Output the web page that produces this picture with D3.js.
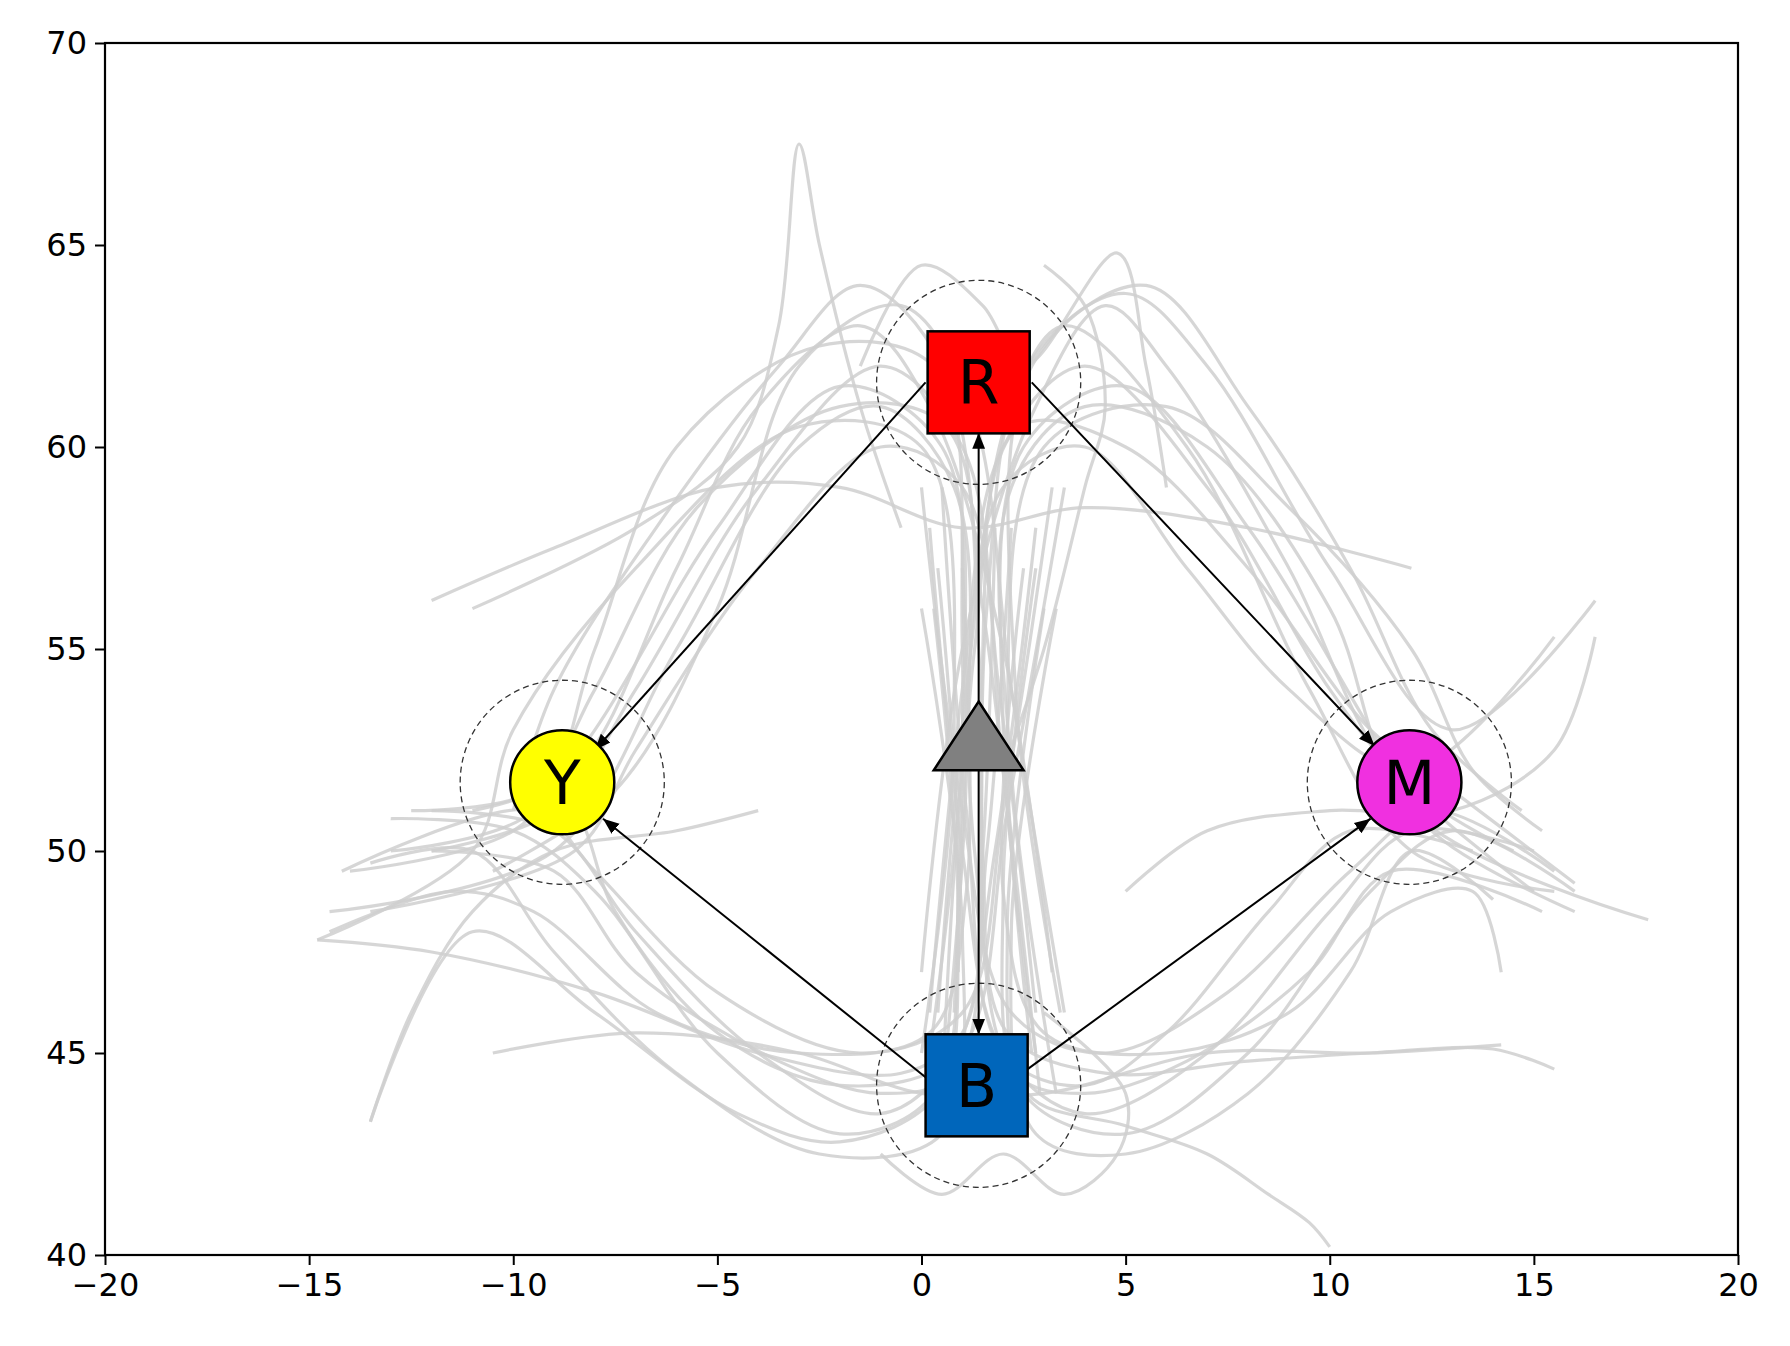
<!DOCTYPE html>
<html><head><meta charset="utf-8">
<script src="https://cdn.jsdelivr.net/npm/d3@7"></script>
<style>body{margin:0;background:#fff}text{font-family:"DejaVu Sans",sans-serif}</style>
</head><body><svg id="c" width="1790" height="1346"></svg>
<script>
const xTicks=[-20,-15,-10,-5,0,5,10,15,20];
const yTicks=[40,45,50,55,60,65,70];
// grey trajectories (x,y pairs)
const upLeft=[
[[2.8,46],[1.9,54],[1.0,60],[-1,62],[-4,59],[-7,54],[-9,51],[-12,50]],
[[0.2,45],[1.0,53],[0.5,60],[-2,61.5],[-5,58],[-8,53],[-10,50.5],[-14,49.5]],
[[3.2,47],[2.0,55],[0.2,61],[-1.5,63],[-4,61],[-6,57],[-8.5,52],[-11,51]],
[[0.5,44],[1.1,52],[0.8,59],[-1,61],[-3,60],[-6,55],[-9,50],[-14.5,48.5]],
[[2.4,48],[1.5,56],[0.3,62],[-2.5,62.5],[-6,60],[-8,55],[-9.5,51],[-13,50]],
[[3.5,46],[2.2,54],[1.2,61],[-0.5,63.5],[-3,62],[-5,56],[-7.5,51.5],[-10.5,49.5]],
[[0.0,45],[0.8,53],[0.0,60],[-3,60.5],[-7,57],[-10,53],[-11,50],[-14.8,47.8]],
[[1.4,47],[1.4,55],[0.6,60.5],[-2,61],[-5.5,58.5],[-8,54],[-9.5,51.5],[-12.5,51]],
[[2.9,44],[2.0,52],[1.0,59],[-1,60],[-4,57],[-7,52.5],[-8.5,50],[-13.5,48.5]],
[[0.8,46],[1.0,55],[0.5,62],[-1.5,64],[-3.5,62],[-6.5,58],[-9,54],[-10,51]]];
const upRight=[
[[0.2,46],[1.0,54],[2.0,60],[4,62],[7,59],[10,54],[12,51.5],[15,49]],
[[2.8,45],[2.0,53],[2.5,60],[5,61.5],[8,58],[11,53],[12.5,50.5],[16,48.5]],
[[0.0,47],[1.0,55],[2.8,61],[4.5,63.5],[6,62],[9,57],[11.5,52],[14.5,50]],
[[3.3,44],[2.2,52],[2.2,59],[4,61],[7,60],[10,56],[12,51],[17.8,48.3]],
[[1.5,48],[1.6,56],[2.6,62],[5,63.8],[7,62],[10,57],[13,53],[16.5,56.2]],
[[0.4,46],[1.1,54],[2.2,61],[3.5,63],[6.5,60],[9.5,54],[12,50],[15.5,49]],
[[2.7,45],[2.1,53],[3.0,60],[6,61],[9,58.5],[12,55],[13.5,52],[15.2,50.5]],
[[0.9,47],[1.3,55],[2.4,60.5],[5,60],[8,57],[11,53],[13,51.5],[16,49.2]],
[[3.4,46],[2.3,54],[2.7,62],[5.5,64],[8,61],[10.5,57],[12.5,53],[14.7,51]],
[[0.5,44],[1.0,52],[2.0,59],[4,60],[6.5,57],[9,54],[12,52],[15.5,55.3]]];
const downLeft=[
[[2.8,58],[1.8,50],[0.8,45],[-1,43.5],[-4,45],[-7,48],[-9,50.5],[-12,51]],
[[0.4,57],[0.9,49],[0.3,44],[-2,43],[-5,45],[-8,49],[-10,50.5],[-13,50.8]],
[[3.2,59],[2.0,51],[1.0,46],[-1.5,45],[-5,46.5],[-8,49.5],[-9.5,51],[-14.2,49.5]],
[[0.0,56],[1.0,48],[0.5,43],[-2.5,42.5],[-6,44.5],[-9,47.5],[-11,50],[-13.5,49.7]],
[[2.2,58],[1.6,50],[0.8,44.5],[-1,44],[-3.5,44.8],[-7,47],[-9,49.5],[-12,50]],
[[1.0,57],[1.1,49],[0.2,45.5],[-3,45],[-6.5,46],[-9.5,48.5],[-11.5,49],[-14.5,48]],
[[3.5,59],[2.1,51],[0.9,45],[-2,44.2],[-5,45.5],[-7.5,48.5],[-8.5,51],[-10,52]],
[[0.3,56],[0.9,48],[0.4,44],[-2,42.8],[-4.5,43.5],[-8,46],[-11,48],[-13.5,43.3]],
[[1.8,58],[1.5,50],[1.0,45.5],[-0.5,44.5],[-4,45],[-8,46.5],[-12,47.5],[-14.8,47.8]]];
const downRight=[
[[0.2,58],[1.0,50],[2.0,45],[4,43.5],[7,45],[10,48.5],[12,50.5],[15,50]],
[[2.8,57],[2.0,49],[2.5,44],[5,43],[8,45],[11,49],[13,50.5],[16,49]],
[[0.0,59],[1.0,51],[2.2,46],[4.5,45],[7.5,46.5],[10.5,49.5],[12.5,51],[15.5,49.5]],
[[3.3,56],[2.2,48],[2.8,43],[5,42.5],[8,44],[10.5,47],[12,50],[14,48.8]],
[[1.0,58],[1.3,50],[2.3,44.5],[4,44],[6.5,44.8],[9.5,47],[11.5,49.5],[15.2,48.5]],
[[2.5,57],[2.0,49],[3.0,45.5],[6,45],[9,46],[11.5,48.5],[13.5,49],[14.2,47]],
[[0.5,59],[1.1,51],[2.0,45],[4,44.2],[6,45.5],[8.5,48.5],[10.5,50.5],[13.5,50]],
[[3.0,56],[2.1,48],[2.6,44],[5,43.2],[7,42.5],[8.5,41.5],[9.5,40.8],[10,40.2]],
[[1.6,58],[1.5,50],[2.1,45.5],[4.5,44.5],[8,44.8],[11,45],[14,45.1],[15.5,44.6]]];
const crossing=[
[[-11,56],[-7,58],[-4.5,60],[-3.5,63],[-3,67.5],[-2.5,65],[-1.5,61],[-0.5,58]],
[[-12,56.2],[-9,57.5],[-5,59],[-2,59],[1,58],[4,58.5],[8,58],[12,57]],
[[-10.5,45],[-7,45.5],[-3,45],[0,44],[3,44],[7,45],[11,45],[14.2,45.2]],
[[-13.5,43.3],[-12.5,46],[-11,48.5],[-9,50],[-6,50.5],[-4,51]],
[[3,64.5],[4,63.5],[4.5,61],[4,59],[3,55],[2,52]],
[[-1.5,62],[0,64.5],[1.5,63.5],[2.5,62],[4.8,64.8],[5.5,62],[6,59]],
[[-1,42.5],[0.5,41.5],[2,42.5],[3.5,41.5],[4.8,42.5],[5,44],[3,46]],
[[16.5,55.3],[15.5,52.5],[13,51],[10,51],[7,50.5],[5,49]]];
const families=[upLeft,upRight,downLeft,downRight,crossing];
// nodes
const boxes=[{l:"R",x:1.4,y:61.6,c:"#ff0000"},{l:"B",x:1.35,y:44.2,c:"#0066bb"}];
const circles=[{l:"Y",x:-8.8,y:51.7,c:"#ffff00"},{l:"M",x:11.95,y:51.7,c:"#f030e0"}];
const rings=[[1.4,61.6],[1.4,44.2],[-8.8,51.7],[11.95,51.7]];
const arrows=[[[1.4,53.7],[1.4,60.35]],[[1.4,52],[1.4,45.45]],[[0.1,61.6],[-8.0,52.5]],[[0.1,44.4],[-7.8,50.8]],[[2.7,61.6],[11.1,52.6]],[[2.6,44.6],[11.0,50.8]]];

const svg=d3.select("#c"),L=105,T=43,W=1633,H=1212;
const x=d3.scaleLinear().domain([-20,20]).range([L,L+W]);
const y=d3.scaleLinear().domain([40,70]).range([T+H,T]);
const defs=svg.append("defs");
defs.append("marker").attr("id","ah").attr("viewBox","0 0 10 10").attr("refX",10).attr("refY",5)
 .attr("markerWidth",16).attr("markerHeight",16).attr("markerUnits","userSpaceOnUse").attr("orient","auto")
 .append("path").attr("d","M0,1L10,5L0,9Z").attr("fill","#000");
defs.append("clipPath").attr("id","cp").append("rect").attr("x",L).attr("y",T).attr("width",W).attr("height",H);
const line=d3.line().x(d=>x(d[0])).y(d=>y(d[1])).curve(d3.curveCatmullRom);
const g=svg.append("g").attr("clip-path","url(#cp)");
families.forEach(f=>f.forEach(t=>g.append("path").attr("d",line(t)).attr("fill","none")
 .attr("stroke","#cfcfcf").attr("stroke-width",3.2).attr("opacity",0.85)));
rings.forEach(r=>svg.append("circle").attr("cx",x(r[0])).attr("cy",y(r[1])).attr("r",x(2.5)-x(0))
 .attr("fill","none").attr("stroke","#333").attr("stroke-width",1.3).attr("stroke-dasharray","6,4"));
arrows.forEach(a=>svg.append("line").attr("x1",x(a[0][0])).attr("y1",y(a[0][1])).attr("x2",x(a[1][0])).attr("y2",y(a[1][1]))
 .attr("stroke","#000").attr("stroke-width",2).attr("marker-end","url(#ah)"));
const s=x(1.25)-x(0);
boxes.forEach(b=>{svg.append("rect").attr("x",x(b.x)-s).attr("y",y(b.y)-s).attr("width",2*s).attr("height",2*s)
 .attr("fill",b.c).attr("stroke","#000").attr("stroke-width",2.5);
 svg.append("text").attr("x",x(b.x)).attr("y",y(b.y)).attr("dy","0.36em").attr("text-anchor","middle").attr("font-size",60).text(b.l);});
circles.forEach(b=>{svg.append("circle").attr("cx",x(b.x)).attr("cy",y(b.y)).attr("r",s*1.02)
 .attr("fill",b.c).attr("stroke","#000").attr("stroke-width",2.5);
 svg.append("text").attr("x",x(b.x)).attr("y",y(b.y)).attr("dy","0.36em").attr("text-anchor","middle").attr("font-size",60).text(b.l);});
const tx=x(1.4),ty1=y(53.7),ty2=y(52);
svg.append("path").attr("d",`M${tx},${ty1}L${x(2.5)},${ty2}L${x(0.3)},${ty2}Z`).attr("fill","#808080").attr("stroke","#000").attr("stroke-width",2.5);
const fmt=d=>d<0?"\u2212"+(-d):""+d;
const ax=svg.append("g").attr("transform",`translate(0,${T+H})`).call(d3.axisBottom(x).tickValues(xTicks).tickFormat(fmt).tickSize(10).tickPadding(8));
const ay=svg.append("g").attr("transform",`translate(${L},0)`).call(d3.axisLeft(y).tickValues(yTicks).tickFormat(fmt).tickSize(10).tickPadding(8));
[ax,ay].forEach(a=>{a.selectAll("text").attr("font-size",32).attr("fill","#000").attr("font-family","DejaVu Sans");a.selectAll("line").attr("stroke-width",2);a.select(".domain").remove();});
svg.append("rect").attr("x",L).attr("y",T).attr("width",W).attr("height",H).attr("fill","none").attr("stroke","#000").attr("stroke-width",2.2);
</script></body></html>
